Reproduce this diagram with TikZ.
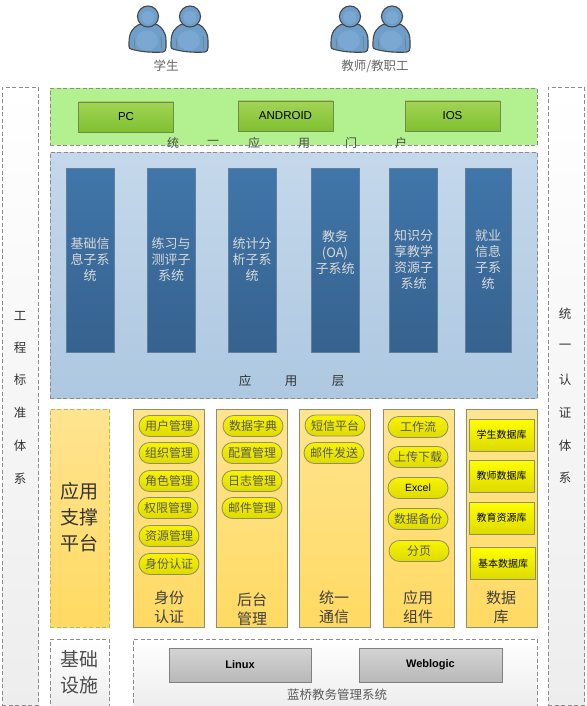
\documentclass[tikz,border=0pt]{standalone}
\usepackage{fontspec}
\setmainfont{Liberation Sans}
\newfontfamily\cjk{Noto Sans CJK SC}
\usetikzlibrary{shapes.misc}
\definecolor{dashgray}{HTML}{8C8C8C}
\definecolor{boxedge}{HTML}{8F8F70}
\definecolor{colTop}{HTML}{FFE490}
\definecolor{colBot}{HTML}{FFDA62}
\definecolor{pillTop}{HTML}{F8F400}
\definecolor{pillBot}{HTML}{DEDA00}
\definecolor{grnTop}{HTML}{A2D455}
\definecolor{grnBot}{HTML}{80C030}
\definecolor{grnEdge}{HTML}{6E8A50}
\definecolor{bluTop}{HTML}{4076AA}
\definecolor{bluBot}{HTML}{36628E}
\definecolor{bluEdge}{HTML}{5F7F9C}
\definecolor{appTop}{HTML}{C5D8EB}
\definecolor{appBot}{HTML}{ADC8E0}
\definecolor{portalC}{HTML}{B2F090}
\definecolor{personC}{HTML}{6E9FCB}
\definecolor{personL}{HTML}{7AA8D2}
\definecolor{grayTop}{HTML}{D4D4D4}
\definecolor{grayBot}{HTML}{B8B8B8}
\tikzset{
 x=1pt,y=-1pt,
 lbl/.style={inner sep=0pt,font=\cjk,text=#1,align=center},
 lbl/.default={black!80},
 dashbox/.style={draw=dashgray,dash pattern=on 4pt off 2.5pt,line width=.8pt,inner sep=0pt},
 column/.style={draw=boxedge,line width=.9pt,top color=colTop,bottom color=colBot,inner sep=0pt},
 pill/.style={rounded rectangle,draw=boxedge,line width=.8pt,top color=pillTop,bottom color=pillBot,minimum width=60pt,minimum height=21pt,inner sep=0pt,font=\cjk\fontsize{12}{12}\selectfont,text=black!65},
 dbbox/.style={draw=boxedge,line width=.8pt,top color=yellow,bottom color=pillBot,minimum width=65pt,minimum height=32pt,inner sep=0pt,font=\cjk\fontsize{10}{10}\selectfont,text=black},
 greenbox/.style={draw=grnEdge,line width=.8pt,top color=grnTop,bottom color=grnBot,minimum width=95pt,minimum height=30pt,inner sep=0pt,font=\fontsize{11.5}{11.5}\selectfont,text=black},
 bluebox/.style={draw=bluEdge,line width=.7pt,top color=bluTop,bottom color=bluBot,inner sep=0pt,align=center,minimum height=184pt,font=\cjk\fontsize{13}{16}\selectfont,text=black!15},
 graybox/.style={draw=black!50,line width=1pt,top color=grayTop,bottom color=grayBot,minimum height=34pt,inner sep=0pt,font=\fontsize{11}{11}\selectfont\bfseries},
 side/.style={dashbox,top color=white,bottom color=black!7,minimum width=36pt,minimum height=618pt,anchor=north west},
 figline/.style={line width=1.1pt,draw=black!72},
}
\newcommand{\person}[1]{%
 \begin{scope}[shift={(#1,16.5)}]
  \draw[figline,fill=personC] (-9,8) .. controls (-15,11) and (-19,16) .. (-19,26) -- (-19,30) .. controls (-19,33) and (-15,33) .. (-11,34) .. controls (-2,36) and (10,36) .. (15,35.5) .. controls (17,35) and (18,34) .. (18,31) -- (18,24) .. controls (18,16) and (14,11) .. (9,8) -- cycle;
  \fill[personL] (-1,24) ellipse (11 and 10);
  \draw[line width=.5pt,draw=black!55] (-14,22) -- (-13,33);
  \draw[line width=.5pt,draw=black!55] (13,20) -- (14,34);
  \draw[figline,fill=personC] (0,0) circle (10.5);
  \fill[personL] (0,1) circle (6.5);
 \end{scope}}
\begin{document}
\begin{tikzpicture}
\useasboundingbox (0,0) rectangle (586,706);
\fill[white] (0,0) rectangle (586,706);
% people
\person{148}
\person{190}
\person{350}
\person{392}
\node[lbl={black!60},font=\cjk\fontsize{12.5}{12.5}\selectfont] (stu) at (166,66) {学生};
\node[lbl={black!60},font=\cjk\fontsize{12.5}{12.5}\selectfont] (tea) at (375,66) {教师/教职工};
% side panels
\node[side] (left) at (2,87) {};
\node[side] (right) at (548,87) {};
\foreach \t/\y in {工/316,程/348,标/380,准/413,体/446,系/479}
  \node[lbl,font=\cjk\fontsize{12.5}{12.5}\selectfont] at (20,\y) {\t};
\foreach \t/\y in {统/314,一/347,认/380,证/413,体/446,系/478}
  \node[lbl,font=\cjk\fontsize{12.5}{12.5}\selectfont] at (565,\y) {\t};
% portal
\node[dashbox,fill=portalC,minimum width=487pt,minimum height=57pt,anchor=north west] (portal) at (50,88) {};
\node[greenbox] (pc) at (126,117) {PC};
\node[greenbox] (android) at (285.5,116) {ANDROID};
\node[greenbox] (ios) at (452.5,116) {IOS};
\foreach \t/\x in {统/173,一/213,应/254,用/304,门/351,户/401}
  \node[lbl={black!70},font=\cjk\fontsize{12}{12}\selectfont] at (\x,143) {\t};
% application layer
\node[dashbox,top color=appTop,bottom color=appBot,minimum width=487pt,minimum height=246pt,anchor=north west] (app) at (50,152) {};
\node[bluebox,minimum width=48pt] (a1) at (90,260) {基础信\\息子系\\统};
\node[bluebox,minimum width=48pt] (a2) at (171,260) {练习与\\测评子\\系统};
\node[bluebox,minimum width=48pt] (a3) at (252,260) {统计分\\析子系\\统};
\node[bluebox,minimum width=48pt] (a4) at (335,260) {教务\\(OA)\\子系统\\~};
\node[bluebox,minimum width=48pt] (a5) at (413.5,260) {知识分\\享教学\\资源子\\系统};
\node[bluebox,minimum width=46pt] (a6) at (488,260) {就业\\信息\\子系\\统};
\foreach \t/\x in {应/245,用/291,层/338}
  \node[lbl,font=\cjk\fontsize{12.5}{12.5}\selectfont] at (\x,381) {\t};
% support platform
\node[dashbox,draw=black!45!yellow!70,top color=colTop,bottom color=colBot,minimum width=59pt,minimum height=218pt,anchor=north west] (plat) at (50,409) {};
\node[lbl,font=\cjk\fontsize{19}{26}\selectfont] at (79.5,517) {应用\\支撑\\平台};
% columns
\node[column,minimum width=71pt,minimum height=218pt,anchor=north west] (c1) at (133,409) {};
\node[column,minimum width=71pt,minimum height=218pt,anchor=north west] (c2) at (216,409) {};
\node[column,minimum width=71pt,minimum height=218pt,anchor=north west] (c3) at (299,409) {};
\node[column,minimum width=71pt,minimum height=218pt,anchor=north west] (c4) at (382.5,409) {};
\node[column,minimum width=71pt,minimum height=218pt,anchor=north west] (c5) at (465.5,409) {};
\node[lbl={black!75},font=\cjk\fontsize{15}{19}\selectfont] at (169,607.5) {身份\\认证};
\node[lbl={black!75},font=\cjk\fontsize{15}{19}\selectfont] at (252,609) {后台\\管理};
\node[lbl={black!75},font=\cjk\fontsize{15}{19}\selectfont] at (334,607.5) {统一\\通信};
\node[lbl={black!75},font=\cjk\fontsize{15}{19}\selectfont] at (418,607.5) {应用\\组件};
\node[lbl={black!75},font=\cjk\fontsize{15}{19}\selectfont] at (501,607.5) {数据\\库};
% pills col 1
\node[pill] (p11) at (169,426) {用户管理};
\node[pill] (p12) at (169,453) {组织管理};
\node[pill] (p13) at (169,481) {角色管理};
\node[pill] (p14) at (168,508) {权限管理};
\node[pill] (p15) at (169,536) {资源管理};
\node[pill] (p16) at (169,564) {身份认证};
% col 2
\node[pill] (p21) at (253,426) {数据字典};
\node[pill] (p22) at (252,453) {配置管理};
\node[pill] (p23) at (252,481) {日志管理};
\node[pill] (p24) at (252,508) {邮件管理};
% col 3
\node[pill] (p31) at (335,425.5) {短信平台};
\node[pill] (p32) at (334,453) {邮件发送};
% col 4
\node[pill] (p41) at (418,427) {工作流};
\node[pill] (p42) at (418,457) {上传下载};
\node[pill,font=\fontsize{10.5}{10.5}\selectfont,text=black] (p43) at (418,488) {Excel};
\node[pill] (p44) at (418,519) {数据备份};
\node[pill] (p45) at (419,551) {分页};
% databases
\node[dbbox] (d1) at (501.5,435) {学生数据库};
\node[dbbox] (d2) at (501.5,476) {教师数据库};
\node[dbbox] (d3) at (501.5,518) {教育资源库};
\node[dbbox] (d4) at (503,563.5) {基本数据库};
% infrastructure
\node[dashbox,top color=white,bottom color=black!7,minimum width=59pt,minimum height=68pt,anchor=north west] (infra) at (50,639) {};
\node[lbl={black!70},font=\cjk\fontsize{19}{26}\selectfont] at (79.5,672) {基础\\设施};
\node[dashbox,top color=white,bottom color=black!7,minimum width=404pt,minimum height=68pt,anchor=north west] (sys) at (133,639) {};
\node[graybox,minimum width=142pt] (linux) at (240,665) {Linux};
\node[graybox,minimum width=143pt] (web) at (430.5,665) {Weblogic};
\node[lbl={black!65},font=\cjk\fontsize{12.5}{12.5}\selectfont] at (337,695) {蓝桥教务管理系统};
\end{tikzpicture}
\end{document}
